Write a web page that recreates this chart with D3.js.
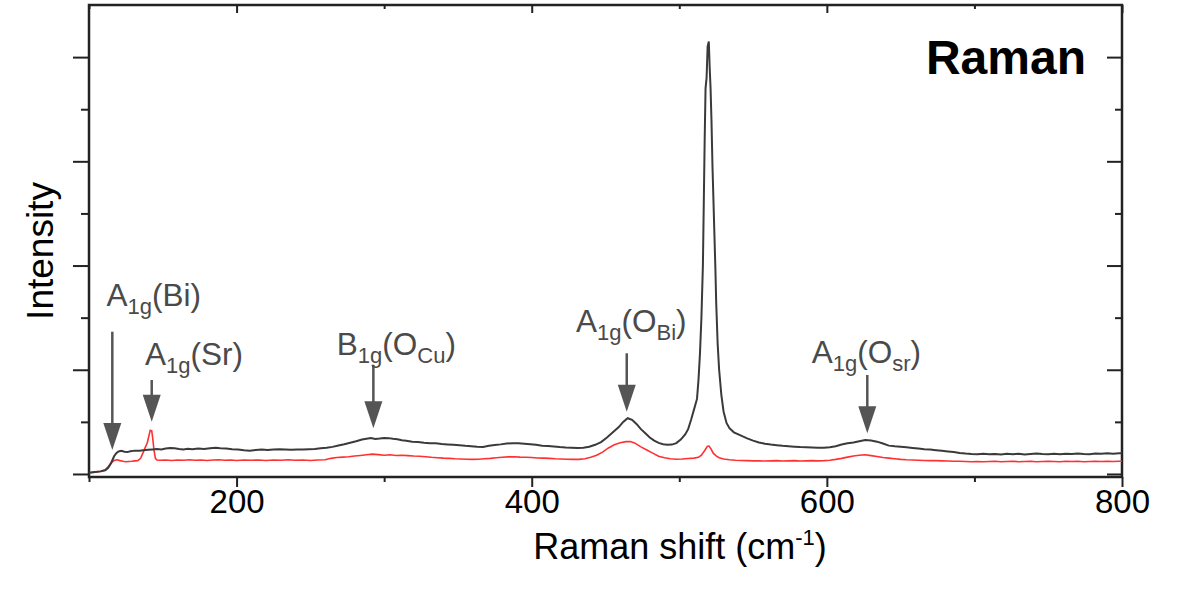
<!DOCTYPE html>
<html><head><meta charset="utf-8">
<script src="https://cdn.jsdelivr.net/npm/d3@7"></script>
<style>body{margin:0;background:#fff}svg{display:block}text{font-family:"Liberation Sans",Arial,sans-serif}</style>
</head><body><svg id="c" width="1203" height="590"></svg>
<script>
// ---------- data ----------
const blackShift = [100,104,108,111,113,115,117,118.5,120,122,124,126,128,131,134,137,140,143,146,149,152,155,158,161,164,167,170,174,178,182,186,189,193,197,201,205,209,213,217,221,225,229,233,237,241,245,249,253,257,261,265,269,273,277,281,285,288,291,294,297,300,303,306,309,312,315,319,323,327,331,335,339,343,347,351,355,359,363,367,371,375,379,383,387,391,395,399,403,407,411,415,419,423,427,431,435,439,443,447,451,455,459,462,465,468,471,474,477,480,483,486,489,492,495,498,501,504,506,508,510,512,513,514,515,516,516.6,517.2,517.8,518.5,519.2,520,520.6,521.2,521.8,522.5,523.2,523.8,524.5,525,526,527,528.5,530,532,534,537,540,543,546,550,554,558,562,566,570,574,578,582,586,590,594,598,602,606,610,614,618,622,626,630,634,638,642,646,650,654,658,662,666,670,674,678,682,686,690,694,698,702,706,710,714,718,722,726,730,734,738,742,746,750,754,758,762,766,770,774,778,782,786,790,794,798,800];
const blackIntensity = [12,18,25,35,60,106,170,200,216,222,214,210,218,224,222,228,232,236,240,236,244,250,246,240,236,242,238,244,240,246,252,248,244,238,234,228,224,230,234,230,236,238,236,232,236,234,238,240,246,252,260,274,286,300,314,330,338,344,336,340,346,344,338,334,324,318,310,306,300,296,294,288,284,280,276,270,266,262,260,270,278,284,292,296,294,290,286,280,272,268,264,258,254,252,250,252,262,280,306,350,400,450,500,535,520,480,430,390,350,320,298,286,280,282,296,330,380,430,520,620,720,900,1150,1500,2000,2600,3200,3700,3800,4100,4150,3900,3700,3400,2950,2600,2300,1950,1650,1250,1000,760,600,490,440,400,380,360,342,320,302,290,282,276,270,266,262,258,256,254,252,252,256,266,282,294,302,314,326,322,310,292,272,266,262,256,250,244,238,234,228,222,216,210,202,196,192,190,194,190,192,188,194,190,194,188,192,196,192,190,194,190,194,192,196,192,190,196,194,198,194,198,198];
const redShift = [100,104,108,111,113,115,117,119,121,123,125,127,129,131,133,135,136.5,138,139.5,140.5,141.5,142.5,143.3,144,145,146,148,152,156,160,164,168,172,176,180,184,188,192,196,200,205,210,215,220,225,230,235,240,245,250,255,260,264,268,272,276,280,284,288,292,296,300,304,308,312,316,320,324,328,332,336,340,344,348,352,356,360,364,368,372,376,380,384,388,392,396,400,404,408,412,416,420,424,428,432,436,440,444,448,452,456,460,464,467,470,474,478,482,486,490,494,498,502,506,510,513,515,517,519,520,521.5,523,525,527,530,534,538,542,546,550,554,558,562,566,570,574,578,582,586,590,594,598,602,606,610,614,618,622,626,630,634,638,642,646,650,654,658,662,666,670,674,678,682,686,690,694,698,702,706,710,714,718,722,726,730,734,738,742,746,750,754,758,762,766,770,774,778,782,786,790,794,798,800];
const redIntensity = [12,18,26,40,70,106,130,136,128,122,118,120,122,126,128,150,200,250,300,360,420,415,330,230,150,134,132,134,130,134,132,136,132,134,130,134,136,132,134,130,134,132,134,130,134,132,136,132,134,130,134,136,150,158,162,166,172,178,184,190,186,180,184,178,180,176,172,170,166,160,156,152,150,146,144,142,140,142,146,150,156,160,164,166,162,160,158,154,152,150,146,144,142,140,140,146,160,180,210,250,280,300,310,312,296,260,230,200,170,155,146,142,144,148,152,160,180,220,265,270,240,200,174,156,144,136,132,130,128,126,126,124,126,128,124,126,128,124,126,128,126,128,132,140,150,162,172,180,184,176,168,158,152,146,140,136,134,132,130,128,128,126,124,122,122,120,118,120,118,120,122,118,120,122,118,120,122,118,120,122,120,118,122,120,122,118,120,122,120,122,120,122,122];

const xMajorTicks = [200,400,600,800];
const xMinorTicks = [100,300,500,700];
const yMajorTicks = [0,1000,2000,3000,4000];
const yMinorTicks = [500,1500,2500,3500];

// annotations: arrow position (cm-1), tip / top intensity, label left (cm-1), label baseline intensity
const annotShift = [115.8,142.5,292.7,464.4,627.4];
const annotTip = [230,502,438,598,390];
const annotTop = [1365,902,1046,1158,950];
const annotLabelShift = [111.9,137.9,267.9,430.0,589.7];
const annotLabelLevel = [1612,1046,1142,1365,1062];
const annotParts = [
  [["A",0],["1g",1],["(Bi)",0]],
  [["A",0],["1g",1],["(Sr)",0]],
  [["B",0],["1g",1],["(O",0],["Cu",1],[")",0]],
  [["A",0],["1g",1],["(O",0],["Bi",1],[")",0]],
  [["A",0],["1g",1],["(O",0],["sr",1],[")",0]]
];

// ---------- chart ----------
const svg = d3.select("#c");
const x = d3.scaleLinear().domain([100,800]).range([89,1122]);
const y = d3.scaleLinear().domain([-29,4500]).range([477,5]);
const axisColor = "#222";

function styleAxis(g){
  g.select(".domain").remove();
  g.selectAll(".tick line").attr("stroke",axisColor).attr("stroke-width",2);
}

// bottom
svg.append("g").attr("transform","translate(0,477)")
  .call(d3.axisBottom(x).tickValues(xMajorTicks).tickSize(10).tickPadding(3).tickFormat(d3.format("d")))
  .call(styleAxis)
  .call(g=>g.selectAll("text").attr("font-size",33).attr("fill","#000"));
svg.append("g").attr("transform","translate(0,477)")
  .call(d3.axisBottom(x).tickValues(xMinorTicks).tickSize(5).tickFormat(""))
  .call(styleAxis);
// top (inward)
svg.append("g").attr("transform","translate(0,5)")
  .call(d3.axisTop(x).tickValues(xMajorTicks).tickSize(-8).tickFormat(""))
  .call(styleAxis);
svg.append("g").attr("transform","translate(0,5)")
  .call(d3.axisTop(x).tickValues(xMinorTicks).tickSize(-4).tickFormat(""))
  .call(styleAxis);
// left (outward)
svg.append("g").attr("transform","translate(89,0)")
  .call(d3.axisLeft(y).tickValues(yMajorTicks).tickSize(16).tickFormat(""))
  .call(styleAxis);
svg.append("g").attr("transform","translate(89,0)")
  .call(d3.axisLeft(y).tickValues(yMinorTicks).tickSize(8).tickFormat(""))
  .call(styleAxis);
// right (inward)
svg.append("g").attr("transform","translate(1122,0)")
  .call(d3.axisRight(y).tickValues(yMajorTicks).tickSize(-15).tickFormat(""))
  .call(styleAxis);
svg.append("g").attr("transform","translate(1122,0)")
  .call(d3.axisRight(y).tickValues(yMinorTicks).tickSize(-7).tickFormat(""))
  .call(styleAxis);

// frame
svg.append("rect").attr("x",x.range()[0]).attr("y",y.range()[1])
  .attr("width",x.range()[1]-x.range()[0]).attr("height",y.range()[0]-y.range()[1])
  .attr("fill","none").attr("stroke",axisColor).attr("stroke-width",2.5);

// lines
const line = d3.line().x(d=>x(d[0])).y(d=>y(d[1]));
svg.append("path").datum(redShift.map((s,i)=>[s,redIntensity[i]]))
  .attr("d",line).attr("fill","none").attr("stroke","#ff3030").attr("stroke-width",1.6);
svg.append("path").datum(blackShift.map((s,i)=>[s,blackIntensity[i]]))
  .attr("d",line).attr("fill","none").attr("stroke","#3a3a3a").attr("stroke-width",2);

// annotations
const arrowColor = "#555";
annotShift.forEach((s,i)=>{
  const ax = x(s), tip = y(annotTip[i]), top = y(annotTop[i]);
  svg.append("line").attr("x1",ax).attr("x2",ax).attr("y1",top).attr("y2",tip-24)
    .attr("stroke",arrowColor).attr("stroke-width",2.5);
  svg.append("path").attr("d",`M${ax-9},${tip-27}L${ax+9},${tip-27}L${ax},${tip}Z`).attr("fill",arrowColor);
  const t = svg.append("text").attr("x",x(annotLabelShift[i])).attr("y",y(annotLabelLevel[i]))
    .attr("font-size",31.5).attr("fill","#4a4a4a");
  let prevSub = 0;
  annotParts[i].forEach(([str,sub])=>{
    const dy = (sub - prevSub)*8;
    t.append("tspan").attr("dy",dy).attr("font-size",sub?22:31.5).text(str);
    prevSub = sub;
  });
});

// axis titles
const xt = svg.append("text").attr("x",680).attr("y",559).attr("text-anchor","middle")
  .attr("font-size",36).attr("fill","#000");
xt.append("tspan").text("Raman shift (cm");
xt.append("tspan").attr("dy",-14).attr("font-size",22).text("-1");
xt.append("tspan").attr("dy",14).text(")");

svg.append("text").attr("transform","translate(53,251) rotate(-90)").attr("text-anchor","middle")
  .attr("font-size",37).attr("fill","#000").text("Intensity");

svg.append("text").attr("x",1086).attr("y",74).attr("text-anchor","end")
  .attr("font-size",48).attr("font-weight","bold").attr("fill","#000").text("Raman");
</script></body></html>
